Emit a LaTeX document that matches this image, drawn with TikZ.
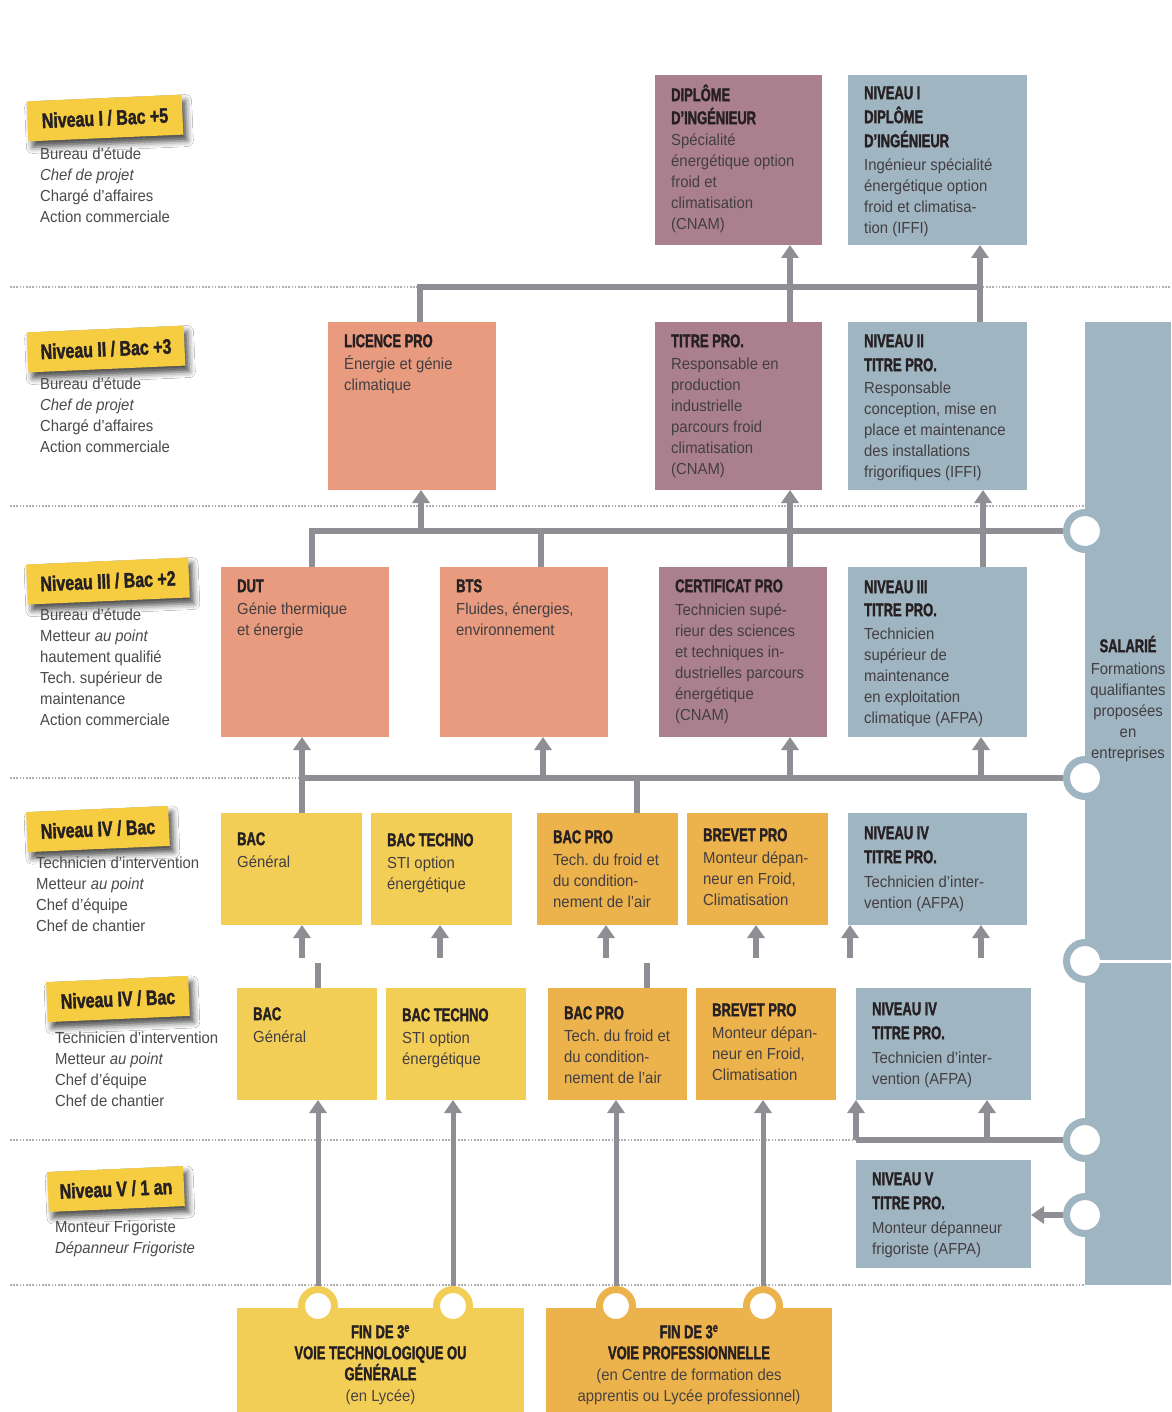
\documentclass[tikz,border=0pt]{standalone}
\usepackage{fontspec}
\setmainfont{Liberation Sans}
\newfontfamily\bodyf[FakeStretch=0.93]{Liberation Sans}
\newfontfamily\condf[FakeStretch=0.7,BoldFeatures={FakeBold=1.6}]{Liberation Sans}
\newfontfamily\tagf[FakeStretch=0.76,BoldFeatures={FakeBold=1.6}]{Liberation Sans}
\usetikzlibrary{arrows.meta,calc,shadows.blur}
\frenchspacing

\definecolor{mauve}{RGB}{170,128,143}
\definecolor{bluegr}{RGB}{160,181,194}
\definecolor{salmon}{RGB}{232,155,126}
\definecolor{yel}{RGB}{243,206,86}
\definecolor{ora}{RGB}{236,178,76}
\definecolor{tagyel}{RGB}{246,204,64}
\definecolor{conncol}{RGB}{142,142,148}
\definecolor{dotcol}{RGB}{175,175,178}
\definecolor{titlecol}{RGB}{38,32,34}
\definecolor{bodycol}{RGB}{66,62,66}
\definecolor{labcol}{RGB}{74,74,76}

\newcommand\tf[1]{{\condf\bfseries\fontsize{18.5}{21}\selectfont\color{titlecol}#1}}
\newcommand\fs{\rule{0pt}{18pt}}
\newcommand\ls{\rule{0pt}{12pt}}

\tikzset{
 cbox/.style={rectangle, inner sep=0pt, outer sep=0pt, anchor=north west},
 btxt/.style={anchor=north west, inner sep=0pt, align=left, font=\bodyf\fontsize{16}{21}\selectfont, text=bodycol},
 ctxt/.style={anchor=north, inner sep=0pt, align=center, font=\bodyf\fontsize{16}{21}\selectfont, text=bodycol},
 lab/.style={anchor=north west, inner sep=0pt, align=left, font=\bodyf\fontsize{16}{21}\selectfont, text=labcol},
 tag/.style={fill=tagyel, rotate=2.5, inner sep=0pt, minimum height=40pt, font=\tagf\bfseries\fontsize{21}{21}\selectfont, text=titlecol, blur shadow={shadow xshift=4pt, shadow yshift=-6pt, shadow blur radius=6pt, shadow opacity=70}},
 conn/.style={draw=conncol, line width=6pt},
 arr/.style={-{Triangle[width=17pt,length=13pt]}},
 notch/.style={circle, draw=bluegr, line width=7pt, fill=white, minimum size=37pt, inner sep=0pt},
 bump/.style={circle, draw=#1, line width=7pt, fill=white, minimum size=33pt, inner sep=0pt},
 dotline/.style={draw=dotcol, line width=1.6pt, dash pattern=on 1.6pt off 1.6pt},
}
\newcommand\cb[6]{\node[cbox, fill=#6, minimum width=#4pt, minimum height=#5pt] (#1) at (#2,#3) {};}
\newcommand\ct[3]{\node[btxt] (#1t) at ($(#1.north west)+(16,#2)$) {#3};}

\begin{document}
\begin{tikzpicture}[x=1pt,y=-1pt]
\useasboundingbox[fill=white] (0,0) rectangle (1171,1412);

% dotted separators
\draw[dotline] (10,287) -- (1171,287);
\draw[dotline] (10,506) -- (1085,506);
\draw[dotline] (10,778) -- (1085,778);
\draw[dotline] (10,1140) -- (1085,1140);
\draw[dotline] (10,1285) -- (1085,1285);

% salarie panel
\node[cbox, fill=bluegr, minimum width=86pt, minimum height=963pt] (sal) at (1085,322) {};
\node[ctxt] (salt) at (1128,634) {\fs\tf{SALARIÉ}\\[1pt]Formations\\qualifiantes\\proposées\\en\\entreprises};

% tags
\node[tag, minimum width=155pt] (tg1) at (105,118) {Niveau I / Bac +5};
\node[tag, minimum width=157pt] (tg2) at (106,349) {Niveau II / Bac +3};
\node[tag, minimum width=162pt] (tg3) at (108,581) {Niveau III / Bac +2};
\node[tag, minimum width=142pt] (tg4) at (98,829) {Niveau IV / Bac};
\node[tag, minimum width=142pt] (tg5) at (118,999) {Niveau IV / Bac};
\node[tag, minimum width=136pt] (tg6) at (116,1189) {Niveau V / 1 an};

% labels
\node[lab] (l1) at (40,147.5) {\ls Bureau d’étude\\\textit{Chef de projet}\\Chargé d’affaires\\Action commerciale};
\node[lab] (l2) at (40,377.5) {\ls Bureau d’étude\\\textit{Chef de projet}\\Chargé d’affaires\\Action commerciale};
\node[lab] (l3) at (40,608.5) {\ls Bureau d’étude\\Metteur \textit{au point}\\hautement qualifié\\Tech. supérieur de\\maintenance\\Action commerciale};
\node[lab] (l4) at (36,856.5) {\ls Technicien d’intervention\\Metteur \textit{au point}\\Chef d’équipe\\Chef de chantier};
\node[lab] (l5) at (55,1031.5) {\ls Technicien d’intervention\\Metteur \textit{au point}\\Chef d’équipe\\Chef de chantier};
\node[lab] (l6) at (55,1220.5) {\ls Monteur Frigoriste\\\textit{Dépanneur Frigoriste}};

% row I
\cb{dip}{655}{75}{167}{170}{mauve}
\ct{dip}{8}{\fs\tf{DIPLÔME}\\[2pt]\tf{D’INGÉNIEUR}\\Spécialité\\énergétique option\\froid et\\climatisation\\(CNAM)}
\cb{n1}{848}{75}{179}{170}{bluegr}
\ct{n1}{6}{\fs\tf{NIVEAU I}\\[3pt]\tf{DIPLÔME}\\[3pt]\tf{D’INGÉNIEUR}\\[2pt]Ingénieur spécialité\\énergétique option\\froid et climatisa-\\tion (IFFI)}

% row II
\cb{lic}{328}{322}{168}{168}{salmon}
\ct{lic}{7}{\fs\tf{LICENCE PRO}\\[1pt]Énergie et génie\\climatique}
\cb{tp2}{655}{322}{167}{168}{mauve}
\ct{tp2}{7}{\fs\tf{TITRE PRO.}\\[1pt]Responsable en\\production\\industrielle\\parcours froid\\climatisation\\(CNAM)}
\cb{n2}{848}{322}{179}{168}{bluegr}
\ct{n2}{7}{\fs\tf{NIVEAU II}\\[3pt]\tf{TITRE PRO.}\\[1pt]Responsable\\conception, mise en\\place et maintenance\\des installations\\frigorifiques (IFFI)}

% row III
\cb{dut}{221}{567}{168}{170}{salmon}
\ct{dut}{7}{\fs\tf{DUT}\\[1pt]Génie thermique\\et énergie}
\cb{bts}{440}{567}{168}{170}{salmon}
\ct{bts}{7}{\fs\tf{BTS}\\[1pt]Fluides, énergies,\\environnement}
\cb{cert}{659}{567}{168}{170}{mauve}
\ct{cert}{7}{\fs\tf{CERTIFICAT PRO}\\[2pt]Technicien supé-\\rieur des sciences\\et techniques in-\\dustrielles parcours\\énergétique\\(CNAM)}
\cb{n3}{848}{567}{179}{170}{bluegr}
\ct{n3}{8}{\fs\tf{NIVEAU III}\\[2pt]\tf{TITRE PRO.}\\[2pt]Technicien\\supérieur de\\maintenance\\en exploitation\\climatique (AFPA)}

% row IV (upper)
\cb{bac1}{221}{813}{141}{112}{yel}
\ct{bac1}{14}{\fs\tf{BAC}\\[1pt]Général}
\cb{bt1}{371}{813}{141}{112}{yel}
\ct{bt1}{15}{\fs\tf{BAC TECHNO}\\[1pt]STI option\\énergétique}
\cb{bp1}{537}{813}{141}{112}{ora}
\ct{bp1}{12}{\fs\tf{BAC PRO}\\[1pt]Tech. du froid et\\du condition-\\nement de l’air}
\cb{bv1}{687}{813}{141}{112}{ora}
\ct{bv1}{10}{\fs\tf{BREVET PRO}\\[1pt]Monteur dépan-\\neur en Froid,\\Climatisation}
\cb{n4a}{848}{813}{179}{112}{bluegr}
\ct{n4a}{8}{\fs\tf{NIVEAU IV}\\[3pt]\tf{TITRE PRO.}\\[3pt]Technicien d’inter-\\vention (AFPA)}

% row IV (lower)
\cb{bac2}{237}{988}{140}{112}{yel}
\ct{bac2}{14}{\fs\tf{BAC}\\[1pt]Général}
\cb{bt2}{386}{988}{140}{112}{yel}
\ct{bt2}{15}{\fs\tf{BAC TECHNO}\\[1pt]STI option\\énergétique}
\cb{bp2}{548}{988}{139}{112}{ora}
\ct{bp2}{13}{\fs\tf{BAC PRO}\\[1pt]Tech. du froid et\\du condition-\\nement de l’air}
\cb{bv2}{696}{988}{140}{112}{ora}
\ct{bv2}{10}{\fs\tf{BREVET PRO}\\[1pt]Monteur dépan-\\neur en Froid,\\Climatisation}
\cb{n4b}{856}{988}{175}{112}{bluegr}
\ct{n4b}{9}{\fs\tf{NIVEAU IV}\\[3pt]\tf{TITRE PRO.}\\[3pt]Technicien d’inter-\\vention (AFPA)}

% row V
\cb{n5}{856}{1160}{175}{108}{bluegr}
\ct{n5}{7}{\fs\tf{NIVEAU V}\\[3pt]\tf{TITRE PRO.}\\[3pt]Monteur dépanneur\\frigoriste (AFPA)}

% bottom boxes
\cb{fin1}{237}{1308}{287}{104}{yel}
\cb{fin2}{546}{1308}{286}{104}{ora}
\node[ctxt, text=titlecol!85] (fin1t) at (380.5,1320) {\fs\tf{FIN DE 3\textsuperscript{e}}\\\tf{VOIE TECHNOLOGIQUE OU}\\\tf{GÉNÉRALE}\\(en Lycée)};
\node[ctxt, text=titlecol!85] (fin2t) at (689,1320) {\fs\tf{FIN DE 3\textsuperscript{e}}\\\tf{VOIE PROFESSIONNELLE}\\(en Centre de formation des\\apprentis ou Lycée professionnel)};
\node[bump=yel] (b1) at (318,1306) {};
\node[bump=yel] (b2) at (453,1306) {};
\node[bump=ora] (b3) at (616,1306) {};
\node[bump=ora] (b4) at (763,1306) {};

% notches
\node[notch] (c1) at (1085,531) {};
\node[notch] (c2) at (1085,778) {};
\node[notch] (c3) at (1085,961) {};
\node[notch] (c4) at (1085,1140) {};
\node[notch] (c5) at (1085,1215) {};
\draw[white, line width=3pt] (c3.center) -- (sal.east |- c3);

% guide coordinates
\foreach \g in {302,318,420,421,440,453,541,543,606,616,637,647,756,763,790,850,856,980,981,983,987}
  {\coordinate (x\g) at (\g,0);}
\coordinate (bus1a) at (420,287);
\coordinate (bus1b) at (980,287);
\coordinate (bus2a) at (312,531);
\coordinate (bus3a) at (302,778);
\coordinate (bus4a) at (856,1140);
\coordinate (cut1) at (0,958);
\coordinate (cut2) at (0,963);

% connectors level II -> I
\draw[conn] (lic.north -| bus1a) -- (bus1a) -- (bus1b);
\draw[conn,arr] (tp2.north -| x790) -- (dip.south -| x790);
\draw[conn,arr] (n2.north -| bus1b) -- (n1.south -| bus1b);
% level III -> II
\draw[conn] (dut.north -| bus2a) -- (bus2a) -- (c1);
\draw[conn] (bts.north -| x541) -- (x541 |- bus2a);
\draw[conn,arr] (x421 |- bus2a) -- (lic.south -| x421);
\draw[conn,arr] (cert.north -| x790) -- (tp2.south -| x790);
\draw[conn,arr] (n3.north -| x983) -- (n2.south -| x983);
% level IV -> III
\draw[conn] (bus3a) -- (c2);
\draw[conn,arr] (bac1.north -| bus3a) -- (dut.south -| bus3a);
\draw[conn,arr] (x543 |- bus3a) -- (bts.south -| x543);
\draw[conn,arr] (x790 |- bus3a) -- (cert.south -| x790);
\draw[conn,arr] (x981 |- bus3a) -- (n3.south -| x981);
\draw[conn] (x637 |- bus3a) -- (bp1.north -| x637);
% upper row IV incoming (cut)
\draw[conn,arr] (x302 |- cut1) -- (bac1.south -| x302);
\draw[conn,arr] (x440 |- cut1) -- (bt1.south -| x440);
\draw[conn,arr] (x606 |- cut1) -- (bp1.south -| x606);
\draw[conn,arr] (x756 |- cut1) -- (bv1.south -| x756);
\draw[conn,arr] (x850 |- cut1) -- (n4a.south -| x850);
\draw[conn,arr] (x981 |- cut1) -- (n4a.south -| x981);
% lower row IV outgoing stubs
\draw[conn] (x318 |- cut2) -- (bac2.north -| x318);
\draw[conn] (x647 |- cut2) -- (bp2.north -| x647);
% from fin de 3e
\draw[conn,line width=5pt,arr] (b1) -- (bac2.south -| b1);
\draw[conn,line width=5pt,arr] (b2) -- (bt2.south -| b2);
\draw[conn,line width=5pt,arr] (b3) -- (bp2.south -| b3);
\draw[conn,line width=5pt,arr] (b4) -- (bv2.south -| b4);
% salarie -> IV and V
\draw[conn] (bus4a) -- (c4);
\draw[conn,arr] (bus4a) -- (n4b.south -| bus4a);
\draw[conn,arr] (x987 |- bus4a) -- (n4b.south -| x987);
\draw[conn,arr] (c5) -- (n5.east |- c5);
\end{tikzpicture}
\end{document}
